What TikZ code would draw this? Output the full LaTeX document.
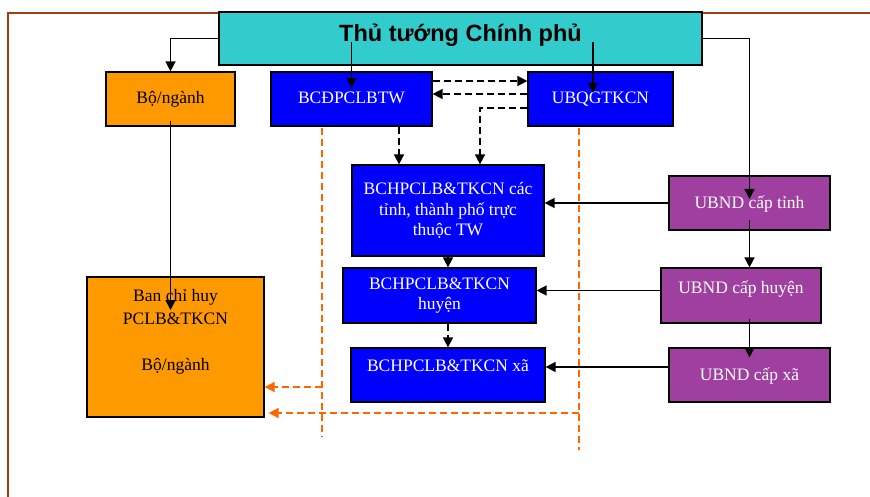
\documentclass[tikz,border=0pt]{standalone}
\usepackage{fontspec}
\setmainfont{Liberation Serif}
\newfontfamily\titlefont{Liberation Sans}
\usetikzlibrary{arrows.meta,calc}
\definecolor{cTeal}{HTML}{33CCCC}
\definecolor{cOrange}{HTML}{FF9900}
\definecolor{cBlue}{HTML}{0000FF}
\definecolor{cPurple}{HTML}{9F3F9F}
\definecolor{cDashOrange}{HTML}{FF6600}
\definecolor{cFrame}{HTML}{A0400F}
\begin{document}
\begin{tikzpicture}[x=1pt,y=-1pt,
  box/.style={draw=black, line width=1.2pt, inner sep=0pt, align=center,
    font=\fontsize{17.5}{20.4}\selectfont},
  one/.style={text height=13pt, text depth=3pt},
  obox/.style={box, fill=cOrange, text=black},
  bbox/.style={box, fill=cBlue, text=white},
  pbox/.style={box, fill=cPurple, text=white},
  arr/.style={-{Triangle[length=10pt,width=10pt]}, line width=1.5pt, draw=black},
  darr/.style={arr, dash pattern=on 7pt off 4pt},
  odash/.style={draw=cDashOrange, line width=1.6pt, dash pattern=on 7pt off 4pt},
  oarr/.style={odash, -{Triangle[length=10pt,width=10pt,fill=cDashOrange]}},
]
\useasboundingbox (0,0) rectangle (870,497);
% page frame
\draw[cFrame, line width=2pt] (870,13) -- (8,13) -- (8,497);

% boxes
\node[box, fill=cTeal, minimum width=483pt, minimum height=53pt,
  text height=18pt, text depth=11pt,
  font=\titlefont\bfseries\fontsize{23.5}{28}\selectfont] (top) at (460.5,38.5) {Thủ tướng Chính phủ};
\node[obox, one, minimum width=129pt, minimum height=54pt] (bn) at (170.5,99) {Bộ/ngành};
\node[bbox, one, minimum width=161pt, minimum height=54pt] (bcd) at (351.5,99) {BCĐPCLBTW};
\node[bbox, one, minimum width=145pt, minimum height=54pt] (ubq) at (600.5,99) {UBQGTKCN};
\node[bbox, minimum width=192pt, minimum height=91pt] (bct) at (448,210.5)
  {BCHPCLB\&TKCN các\\tỉnh, thành phố trực\\thuộc TW};
\node[bbox, minimum width=193pt, minimum height=55pt] (bch) at (439.5,295.5)
  {BCHPCLB\&TKCN\\huyện};
\node[bbox, one, text depth=21pt, minimum width=194pt, minimum height=54pt] (bcx) at (448,375)
  {BCHPCLB\&TKCN xã};
\node[pbox, one, minimum width=161pt, minimum height=54pt] (ut) at (749.5,203) {UBND cấp tỉnh};
\node[pbox, one, text depth=18pt, minimum width=160pt, minimum height=55pt] (uh) at (741,295.5) {UBND cấp huyện};
\node[pbox, one, minimum width=161pt, minimum height=54pt] (ux) at (749.5,375) {UBND cấp xã};
\node[obox, minimum width=177pt, minimum height=140pt] (ban) at (175.5,347) {};
\node[inner sep=0pt, align=center, text=black, font=\fontsize{17.5}{23}\selectfont] (bant) at (175.5,332)
  {Ban chỉ huy\\PCLB\&TKCN\\[22.7pt]Bộ/ngành};

% solid connectors
\draw[arr] (top.west) -| (bn.north);
\draw[arr] (top.east) -| ($(ut.center)+(0,-4)$);
\draw[arr] ($(ut.center)+(0,17)$) -- (ut.center |- uh.north);
\draw[arr] ($(ut.center |- uh.south)+(0,-5)$) -- ($(ut.center |- ux.north)+(0,10)$);
\draw[arr] ($(bcd.center |- top.center)+(0,3.5)$) -- ($(bcd.center)+(0,-11)$);
\draw[arr] ($(ubq.center |- top.center)+(-7.5,3.5)$) -- ($(ubq.center)+(-7.5,-6)$);
\draw[arr] ($(bn.center)+(0,22)$) -- ($(bn.center |- ban.center)+(0,-37)$);
\draw[arr] (ut.west) -- (ut.west -| bct.east);
\draw[arr] ($(uh.west)+(0,-5)$) coordinate (uhw) -- (uhw -| bch.east);
\draw[arr] ($(ux.west)+(0,-8)$) coordinate (uxw) -- (uxw -| bcx.east);

% dashed connectors
\draw[darr] ($(bcd.east)+(0,-18)$) -- ($(ubq.west)+(0,-18)$);
\draw[darr] ($(ubq.west)+(0,-5)$) -- ($(bcd.east)+(0,-5)$);
\draw[darr] ($(ubq.west)+(0,9)$) -| ($(bct.north)+(32,0)$);
\coordinate (bctin) at ($(bct.north)+(-49,0)$);
\draw[darr] (bctin |- bcd.south) -- (bctin);
\draw[darr] (bct.south) -- (bct.south |- bch.north);
\draw[darr] (bcx.north |- bch.south) -- (bcx.north);

% orange dashed guide lines
\coordinate (o1a) at (322,128);
\coordinate (o1b) at (322,437);
\coordinate (o1m) at (322,387);
\coordinate (o2a) at (579,128);
\coordinate (o2b) at (579,450);
\coordinate (o2m) at (579,413);
\draw[odash] (o1a) -- (o1b);
\draw[odash] (o2a) -- (o2b);
\draw[oarr] (o1m) -- (o1m -| ban.east);
\draw[oarr] (o2m) -- ($(o2m -| ban.east)+(4,0)$);
\end{tikzpicture}
\end{document}
